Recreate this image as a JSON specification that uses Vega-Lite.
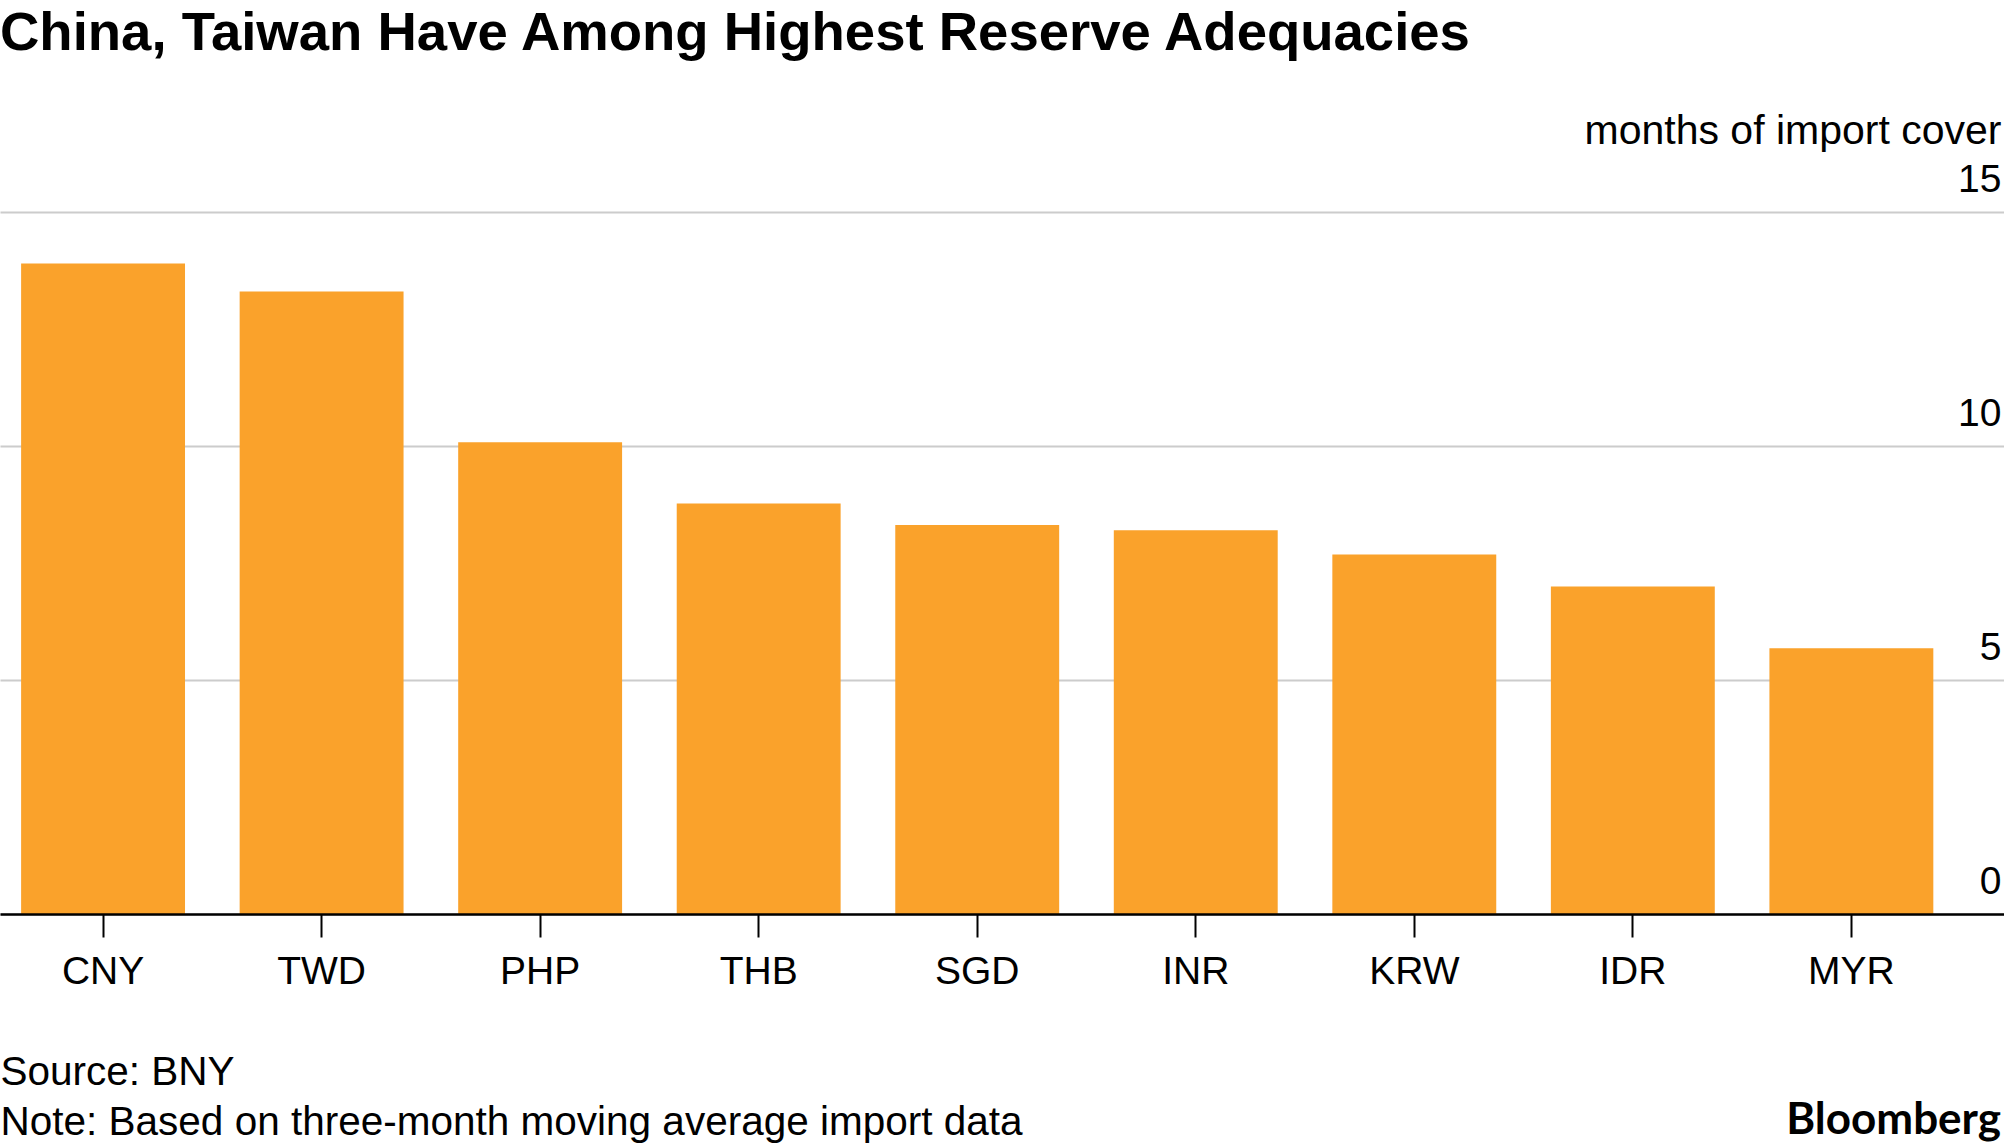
{
  "$schema": "https://vega.github.io/schema/vega-lite/v6.json",
  "width": 2004,
  "height": 702,
  "autosize": {"type": "none"},
  "padding": {"left": 0, "top": 212, "right": 0, "bottom": 232},
  "background": "white",
  "title": {
    "text": "China, Taiwan Have Among Highest Reserve Adequacies",
    "anchor": "start",
    "frame": "group",
    "font": "Liberation Sans",
    "fontSize": 54.5,
    "fontWeight": "bold",
    "color": "black",
    "baseline": "alphabetic",
    "offset": 6
  },
  "config": {
    "font": "Liberation Sans",
    "view": {"stroke": null}
  },
  "layer": [
    {
      "data": {
        "values": [
          {"currency": "CNY", "months": 13.9},
          {"currency": "TWD", "months": 13.3},
          {"currency": "PHP", "months": 10.08},
          {"currency": "THB", "months": 8.77},
          {"currency": "SGD", "months": 8.31},
          {"currency": "INR", "months": 8.2},
          {"currency": "KRW", "months": 7.68},
          {"currency": "IDR", "months": 7.0},
          {"currency": "MYR", "months": 5.68}
        ]
      },
      "mark": {"type": "bar", "color": "#faa22b"},
      "encoding": {
        "x": {
          "field": "currency",
          "type": "nominal",
          "sort": null,
          "scale": {"paddingInner": 0.25, "paddingOuter": 0.21, "align": 0.23},
          "axis": {
            "title": ["Source: BNY", "Note: Based on three-month moving average import data"],
            "labelAngle": 0,
            "labelFontSize": 39,
            "labelColor": "black",
            "labelPadding": 15,
            "tickSize": 23,
            "tickColor": "black",
            "tickWidth": 2,
            "domainColor": "black",
            "domainWidth": 2.5,
            "titleX": 0,
            "titleY": 170,
            "titleAlign": "left",
            "titleAnchor": "start",
            "titleBaseline": "alphabetic",
            "titleFontSize": 40.5,
            "titleFontWeight": "normal",
            "titleColor": "black",
            "titleLineHeight": 50,
            "zindex": 1
          }
        },
        "y": {
          "field": "months",
          "type": "quantitative",
          "scale": {"domain": [0, 15], "nice": false},
          "axis": {
            "orient": "right",
            "values": [0, 5, 10, 15],
            "grid": true,
            "gridColor": "#cccccc",
            "gridWidth": 2,
            "domain": false,
            "ticks": false,
            "labelAlign": "right",
            "labelBaseline": "alphabetic",
            "labelOffset": -21,
            "labelPadding": -3,
            "labelFontSize": 39,
            "labelColor": "black",
            "labelFlush": false,
            "labelBound": false,
            "labelOverlap": false,
            "title": "months of import cover",
            "titleAngle": 0,
            "titleAlign": "right",
            "titleBaseline": "alphabetic",
            "titleX": -3,
            "titleY": -69,
            "titleFontSize": 41,
            "titleFontWeight": "normal",
            "titleColor": "black",
            "zindex": 0
          }
        }
      }
    },
    {
      "data": {"values": [{"brand": "Bloomberg"}]},
      "mark": {
        "type": "text",
        "align": "right",
        "baseline": "alphabetic",
        "dy": 220,
        "dx": -3,
        "font": "Lato",
        "fontWeight": "bold",
        "fontSize": 44,
        "color": "black"
      },
      "encoding": {
        "text": {"field": "brand", "type": "nominal"},
        "x": {"value": "width"},
        "y": {"value": "height"}
      }
    }
  ]
}
